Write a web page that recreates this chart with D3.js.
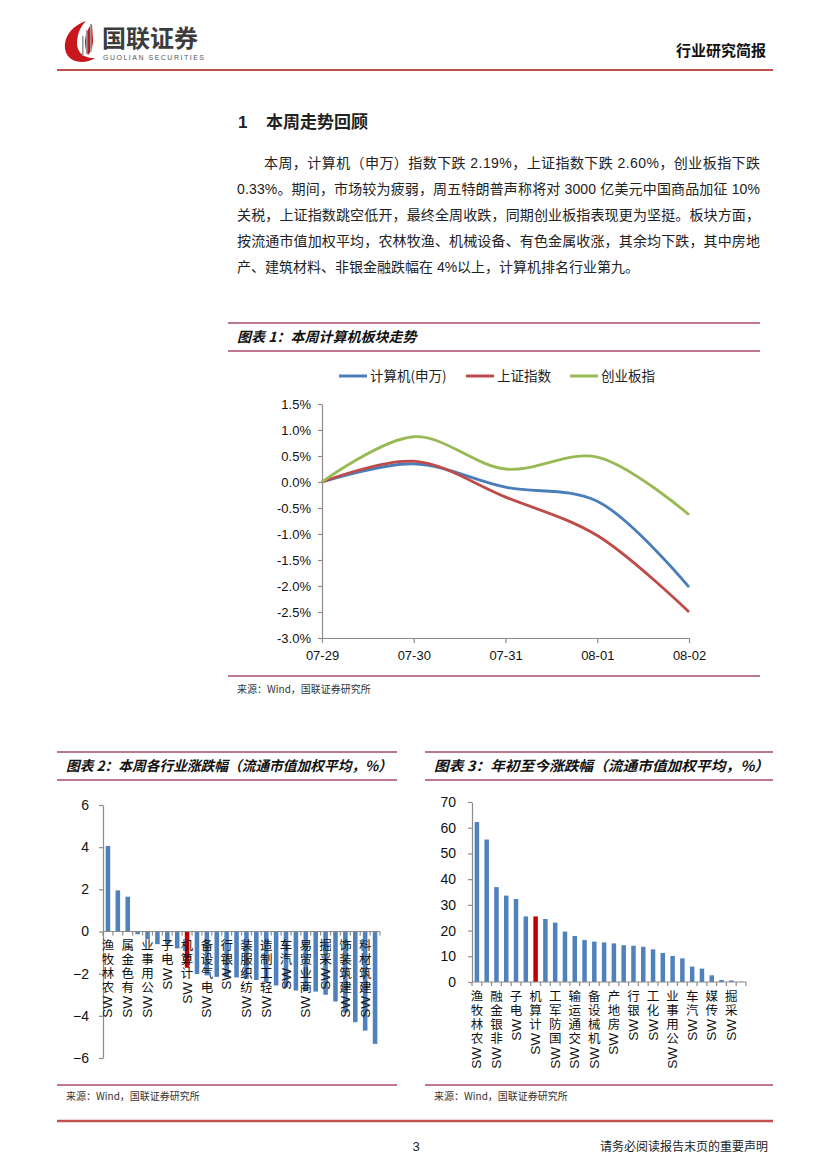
<!DOCTYPE html>
<html>
<head>
<meta charset="utf-8">
<script src="https://cdn.jsdelivr.net/npm/d3@7"></script>
<style>
body { margin: 0; background: #fff; }
svg text { font-family: "Liberation Sans", "Noto Sans CJK SC", sans-serif; fill: #222; }
.cjk { font-family: "Noto Sans CJK SC", sans-serif; }
.vert { writing-mode: vertical-rl; text-orientation: upright; }
</style>
</head>
<body>
<svg id="page" width="827" height="1169"></svg>
<script>
// ---- chart 1: weekly trend (%)
const dates = ["07-29", "07-30", "07-31", "08-01", "08-02"];
const seriesNames = ["计算机(申万)", "上证指数", "创业板指"];
const computerVals = [0, 0.35, -0.10, -0.37, -2.02];
const shanghaiVals = [0, 0.40, -0.29, -1.03, -2.50];
const chinextVals = [0, 0.87, 0.25, 0.48, -0.63];
const pctTicks = [-3.0, -2.5, -2.0, -1.5, -1.0, -0.5, 0.0, 0.5, 1.0, 1.5];

// ---- chart 2: this week by industry (%)
const weekInds = ["SW农林牧渔", "SW机械设备", "SW有色金属", "SW化工", "SW公用事业", "SW钢铁",
  "SW电子", "SW家用电器", "SW计算机", "SW食品饮料", "SW电气设备", "SW医药生物", "SW银行",
  "SW交通运输", "SW纺织服装", "SW休闲服务", "SW轻工制造", "SW综合", "SW汽车", "SW国防军工",
  "SW商业贸易", "SW传媒", "SW采掘", "SW通信", "SW建筑装饰", "SW房地产", "SW建筑材料", "SW非银金融"];
const weekVals = [4.06, 1.95, 1.65, -0.13, -0.36, -0.60, -0.62, -0.80, -1.72, -2.02, -2.08, -2.15,
  -2.17, -2.18, -2.25, -2.30, -2.42, -2.56, -2.65, -2.80, -2.82, -2.85, -3.00, -3.32, -3.85, -4.30, -4.70, -5.33];
const weekTicks = [-6, -4, -2, 0, 2, 4, 6];

// ---- chart 3: year to date (%)
const ytdInds = ["SW农林牧渔", "SW食品饮料", "SW非银金融", "SW家用电器", "SW电子", "SW休闲服务",
  "SW计算机", "SW通信", "SW国防军工", "SW医药生物", "SW交通运输", "SW建筑材料", "SW机械设备",
  "SW电气设备", "SW房地产", "SW有色金属", "SW银行", "SW商业贸易", "SW化工", "SW轻工制造",
  "SW公用事业", "SW纺织服装", "SW汽车", "SW综合", "SW传媒", "SW钢铁", "SW采掘", "SW建筑装饰"];
const ytdVals = [62.2, 55.4, 36.9, 33.6, 32.3, 25.5, 25.5, 24.5, 23.1, 19.6, 17.9, 16.3, 15.7, 15.4,
  15.0, 14.3, 14.1, 13.7, 12.7, 11.3, 10.1, 9.2, 6.0, 5.2, 2.6, 0.8, 0.6, 0.1];
const ytdTicks = [0, 10, 20, 30, 40, 50, 60, 70];

const highlight = "SW计算机";
const sourceText = "来源：Wind，国联证券研究所";

const svg = d3.select("#page");
const ruleColor = "#a94a67";
const axisColor = "#8c8c8c";

// ---------- header ----------
const logo = svg.append("g");
logo.append("path")
  .attr("d", "M86,21 C68,27 60,44 68,56 C73,63 86,64 95,58 C84,59 76,52 77,41 C78,32 81,26 86,21 Z")
  .attr("fill", "#c8161d");
logo.append("path")
  .attr("d", "M92,24 C84,32 83,46 88,55 C91,52 93,46 93,40 Z")
  .attr("fill", "#c8161d");
[82, 86, 90].forEach((x, i) => {
  logo.append("rect").attr("x", x).attr("y", 36 - i * 6).attr("width", 1.6).attr("height", 20 + i * 4).attr("fill", "#9a9a9a");
});
logo.append("text").attr("class", "cjk").attr("x", 102).attr("y", 47)
  .attr("font-size", 24).attr("font-weight", 700).style("fill", "#3c3c3c").text("国联证券");
logo.append("text").attr("x", 103).attr("y", 60)
  .attr("font-size", 7).style("fill", "#555").attr("textLength", 101).attr("lengthAdjust", "spacing")
  .text("GUOLIAN SECURITIES");
svg.append("text").attr("class", "cjk").attr("x", 766).attr("y", 56).attr("text-anchor", "end")
  .attr("font-size", 15).attr("font-weight", 700).style("fill", "#111").text("行业研究简报");
svg.append("line").attr("x1", 57).attr("x2", 773).attr("y1", 70).attr("y2", 70)
  .attr("stroke", "#c0504d").attr("stroke-width", 2);

// ---------- section heading + paragraph ----------
svg.append("text").attr("x", 238).attr("y", 128).attr("font-size", 17).attr("font-weight", 700).text("1");
svg.append("text").attr("class", "cjk").attr("x", 266).attr("y", 128).attr("font-size", 17).attr("font-weight", 700).text("本周走势回顾");

const paraLines = [
  "本周，计算机（申万）指数下跌 2.19%，上证指数下跌 2.60%，创业板指下跌",
  "0.33%。期间，市场较为疲弱，周五特朗普声称将对 3000 亿美元中国商品加征 10%",
  "关税，上证指数跳空低开，最终全周收跌，同期创业板指表现更为坚挺。板块方面，",
  "按流通市值加权平均，农林牧渔、机械设备、有色金属收涨，其余均下跌，其中房地",
  "产、建筑材料、非银金融跌幅在 4%以上，计算机排名行业第九。"
];
paraLines.forEach((t, i) => {
  const x0 = i === 0 ? 264 : 237;
  const tx = svg.append("text").attr("x", x0).attr("y", 168 + i * 26)
    .attr("font-size", 14).style("fill", "#222").text(t);
  if (i < 4) tx.attr("textLength", 760 - x0).attr("lengthAdjust", "spacing");
});

// ---------- figure frame helper ----------
function frame(x1, x2, yTop, title, titleLen, yBottom, srcY) {
  svg.append("line").attr("x1", x1).attr("x2", x2).attr("y1", yTop).attr("y2", yTop)
    .attr("stroke", ruleColor).attr("stroke-width", 1.3);
  svg.append("line").attr("x1", x1).attr("x2", x2).attr("y1", yTop + 28).attr("y2", yTop + 28)
    .attr("stroke", ruleColor).attr("stroke-width", 1.3);
  const t = svg.append("text").attr("class", "cjk").attr("x", x1 + 9).attr("y", yTop + 19)
    .attr("font-size", 14).attr("font-weight", 700).attr("font-style", "italic")
    .style("fill", "#111").text(title);
  if (titleLen) t.attr("textLength", titleLen).attr("lengthAdjust", "spacingAndGlyphs");
  svg.append("line").attr("x1", x1).attr("x2", x2).attr("y1", yBottom).attr("y2", yBottom)
    .attr("stroke", ruleColor).attr("stroke-width", 1.3);
  svg.append("text").attr("class", "cjk").attr("x", x1 + 9).attr("y", srcY)
    .attr("font-size", 10).style("fill", "#333").text(sourceText);
}

frame(228, 760, 323, "图表 1：本周计算机板块走势", null, 676, 693);
frame(57, 397, 752, "图表 2：本周各行业涨跌幅（流通市值加权平均，%）", 326, 1085, 1100);
frame(425, 773, 752, "图表 3：年初至今涨跌幅（流通市值加权平均，%）", 335, 1085, 1100);

// ---------- chart 1: lines ----------
const colors1 = ["#4a7ebb", "#be4b48", "#98b954"];
const series1 = [computerVals, shanghaiVals, chinextVals];
const x1s = d3.scalePoint().domain(dates).range([322, 689]);
const y1s = d3.scaleLinear().domain([-3, 1.5]).range([638, 404]);

const g1 = svg.append("g");
const yAx1 = g1.append("g").attr("transform", "translate(322,0)")
  .call(d3.axisLeft(y1s).tickValues(pctTicks).tickSize(4).tickSizeOuter(0).tickPadding(7)
    .tickFormat(d => d.toFixed(1) + "%"));
const xAx1 = g1.append("g").attr("transform", "translate(0,638)")
  .call(d3.axisBottom(x1s).tickSize(5).tickSizeOuter(0).tickPadding(8));
[yAx1, xAx1].forEach(a => {
  a.select(".domain").attr("stroke", axisColor).attr("stroke-width", 1.2);
  a.selectAll(".tick line").attr("stroke", axisColor).attr("stroke-width", 1.2);
  a.selectAll(".tick text").attr("font-size", 13).style("fill", "#111")
    .attr("font-family", "Liberation Sans, sans-serif");
});

const line1 = d3.line()
  .x((d, i) => x1s(dates[i]))
  .y(d => y1s(d))
  .curve(d3.curveCatmullRom.alpha(0.5));
series1.forEach((vals, k) => {
  g1.append("path").datum(vals).attr("d", line1).attr("fill", "none")
    .attr("stroke", colors1[k]).attr("stroke-width", 2.8).attr("stroke-linejoin", "round");
});

// legend
const legX = [339, 466, 570];
seriesNames.forEach((n, k) => {
  g1.append("line").attr("x1", legX[k]).attr("x2", legX[k] + 28).attr("y1", 376).attr("y2", 376)
    .attr("stroke", colors1[k]).attr("stroke-width", 3);
  g1.append("text").attr("class", "cjk").attr("x", legX[k] + 31).attr("y", 381)
    .attr("font-size", 13.5).style("fill", "#222").text(n);
});

// ---------- vertical category label: reads bottom-up, CJK glyphs stay upright ----------
function vLabel(g, text, cx, yTop, size) {
  const latin = text.match(/^[A-Za-z]+/)[0];
  const cjk = Array.from(text.slice(latin.length)).reverse().join("");
  const t = g.append("text").attr("class", "cjk vert").attr("x", cx).attr("y", yTop)
    .attr("font-size", size).attr("letter-spacing", 1.5).style("fill", "#111").text(cjk);
  const len = t.node().getComputedTextLength();
  const yEnd = yTop + len + 1;
  g.append("text").attr("transform", `translate(${cx},${yEnd}) rotate(-90)`)
    .attr("text-anchor", "end").attr("dominant-baseline", "central")
    .attr("font-size", size + 1).style("fill", "#111").text(latin);
}

// ---------- bar chart helper ----------
function barChart(cats, vals, ticks, xr, yr, dom, labelPad, labelSize, labelTop) {
  const g = svg.append("g");
  const x = d3.scaleBand().domain(cats).range(xr).paddingInner(0.54).paddingOuter(0.27);
  const y = d3.scaleLinear().domain(dom).range(yr);
  const yAx = g.append("g").attr("transform", `translate(${xr[0]},0)`)
    .call(d3.axisLeft(y).tickValues(ticks).tickSize(4).tickSizeOuter(0).tickPadding(labelPad));
  yAx.select(".domain").attr("stroke", axisColor).attr("stroke-width", 1.2);
  yAx.selectAll(".tick line").attr("stroke", axisColor).attr("stroke-width", 1.2);
  yAx.selectAll(".tick text").attr("font-size", 14).style("fill", "#111")
    .attr("font-family", "Liberation Sans, sans-serif");

  g.selectAll("rect.bar").data(cats).enter().append("rect")
    .attr("x", d => x(d))
    .attr("width", x.bandwidth())
    .attr("y", (d, i) => Math.min(y(vals[i]), y(0)))
    .attr("height", (d, i) => Math.abs(y(vals[i]) - y(0)))
    .attr("fill", d => d === highlight ? "#c00000" : "#4f81bd");

  // category axis at zero
  const y0 = y(0);
  g.append("line").attr("x1", xr[0]).attr("x2", xr[1]).attr("y1", y0).attr("y2", y0)
    .attr("stroke", axisColor).attr("stroke-width", 1.2);
  d3.range(cats.length + 1).forEach(i => {
    const xx = xr[0] + i * x.step();
    g.append("line").attr("x1", xx).attr("x2", xx).attr("y1", y0).attr("y2", y0 + 4)
      .attr("stroke", axisColor).attr("stroke-width", 1.2);
  });

  cats.forEach((c, i) => {
    if (i % 2 === 0) vLabel(g, c, x(c) + x.bandwidth() / 2, labelTop, labelSize);
  });
}

barChart(weekInds, weekVals, weekTicks, [103, 380], [1058, 805], [-6, 6], 10, 12.5, 939);
barChart(ytdInds, ytdVals, ytdTicks, [472, 746], [982, 802], [0, 70], 12, 12.5, 990);

// ---------- footer ----------
svg.append("line").attr("x1", 57).attr("x2", 773).attr("y1", 1121).attr("y2", 1121)
  .attr("stroke", "#c0504d").attr("stroke-width", 2.5);
svg.append("text").attr("x", 416).attr("y", 1151).attr("text-anchor", "middle")
  .attr("font-size", 13).style("fill", "#222").text("3");
svg.append("text").attr("class", "cjk").attr("x", 768).attr("y", 1151).attr("text-anchor", "end")
  .attr("font-size", 12).style("fill", "#222").text("请务必阅读报告末页的重要声明");
</script>
</body>
</html>
